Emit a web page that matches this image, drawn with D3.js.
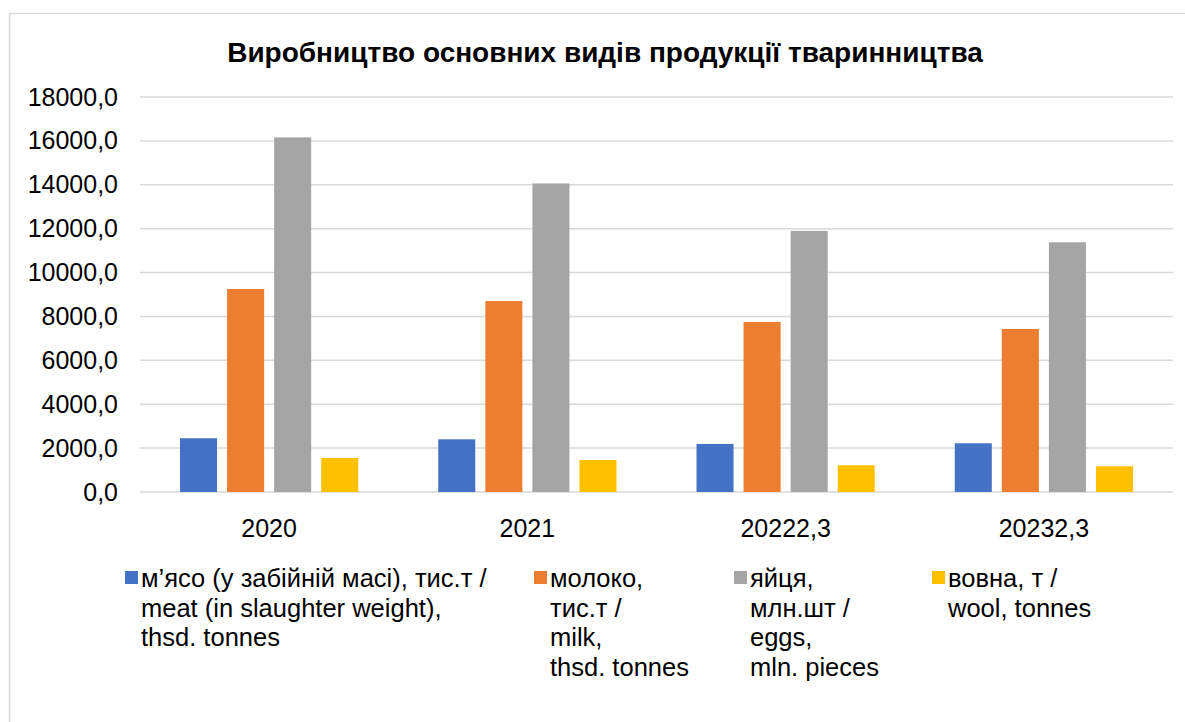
<!DOCTYPE html>
<html>
<head>
<meta charset="utf-8">
<script src="https://cdn.jsdelivr.net/npm/d3@7"></script>
<style>
  body { margin: 0; background: #fff; }
  svg { display: block; font-family: "Liberation Sans", Arial, sans-serif; }
</style>
</head>
<body>
<div id="chart"></div>
<script>
(function () {
    'use strict';

    var WIDTH = 1185;
    var HEIGHT = 722;

    var categories = ["2020", "2021", "20222,3", "20232,3"];
    var meat = [2450, 2400, 2190, 2220];
    var milk = [9250, 8700, 7750, 7430];
    var eggs = [16160, 14060, 11900, 11380];
    var wool = [1550, 1460, 1220, 1170];
    var yTicks = [0, 2000, 4000, 6000, 8000, 10000, 12000, 14000, 16000, 18000];

    var seriesNames = ["meat", "milk", "eggs", "wool"];
    var seriesValues = [meat, milk, eggs, wool];
    var colors = ["#4472c4", "#ed7d31", "#a5a5a5", "#ffc000"];
    var legendLines = [
        ["м’ясо (у забійній масі), тис.т /", "meat (in slaughter weight),", "thsd. tonnes"],
        ["молоко,", "тис.т /", "milk,", "thsd. tonnes"],
        ["яйця,", "млн.шт /", "eggs,", "mln. pieces"],
        ["вовна, т /", "wool, tonnes"]
    ];
    var legendX = [125, 534, 734, 932];

    var margin = {top: 97, left: 140, right: 12, bottom: 230};

    var svg = d3.select("#chart")
        .append("svg")
        .attr("width", WIDTH)
        .attr("height", HEIGHT);

    // outer chart frame
    svg.append("rect")
        .attr("x", 9.5)
        .attr("y", 13.5)
        .attr("width", WIDTH + 20)
        .attr("height", HEIGHT + 20)
        .attr("fill", "#fff")
        .attr("stroke", "#d9d9d9")
        .attr("stroke-width", 1.5);

    svg.append("text")
        .attr("x", 605)
        .attr("y", 62)
        .attr("text-anchor", "middle")
        .attr("font-size", 28)
        .attr("font-weight", "bold")
        .attr("fill", "#000")
        .text("Виробництво основних видів продукції тваринництва");

    var x0 = d3.scaleBand()
        .domain(categories)
        .range([margin.left, WIDTH - margin.right])
        .paddingInner(0)
        .paddingOuter(0);

    var x1 = d3.scaleBand()
        .domain(seriesNames)
        .range([0, x0.bandwidth()])
        .paddingInner(0.213)
        .paddingOuter(0.85);

    var y = d3.scaleLinear()
        .domain([0, 18000])
        .range([492, margin.top]);

    // gridlines
    svg.append("g")
        .selectAll("line")
        .data(yTicks)
        .enter()
        .append("line")
        .attr("x1", margin.left)
        .attr("x2", WIDTH - margin.right)
        .attr("y1", function (d) { return y(d); })
        .attr("y2", function (d) { return y(d); })
        .attr("stroke", "#d9d9d9")
        .attr("stroke-width", 1.5);

    // y axis labels
    var yAxis = d3.axisLeft(y)
        .tickValues(yTicks)
        .tickSize(0)
        .tickPadding(0)
        .tickFormat(function (d) { return d3.format(".1f")(d).replace(".", ","); });

    var gy = svg.append("g")
        .attr("transform", "translate(118,0)")
        .call(yAxis);
    gy.select(".domain").remove();
    gy.selectAll("text")
        .attr("font-family", "Liberation Sans, Arial, sans-serif")
        .attr("font-size", 25)
        .attr("fill", "#000");

    // bars
    var groups = svg.append("g")
        .selectAll("g")
        .data(categories)
        .enter()
        .append("g")
        .attr("transform", function (d) { return "translate(" + x0(d) + ",0)"; });

    groups.selectAll("rect")
        .data(function (d, i) {
            return seriesNames.map(function (s, j) {
                return {key: s, value: seriesValues[j][i], color: colors[j]};
            });
        })
        .enter()
        .append("rect")
        .attr("x", function (d) { return x1(d.key); })
        .attr("width", x1.bandwidth())
        .attr("y", function (d) { return y(d.value); })
        .attr("height", function (d) { return y(0) - y(d.value); })
        .attr("fill", function (d) { return d.color; });

    // x axis labels
    var xAxis = d3.axisBottom(x0).tickSize(0).tickPadding(0);
    var gx = svg.append("g")
        .attr("transform", "translate(0,519)")
        .call(xAxis);
    gx.select(".domain").remove();
    gx.selectAll("text")
        .attr("font-family", "Liberation Sans, Arial, sans-serif")
        .attr("font-size", 25)
        .attr("fill", "#000");

    // legend
    var legend = svg.append("g")
        .selectAll("g")
        .data(seriesNames)
        .enter()
        .append("g")
        .attr("transform", function (d, i) { return "translate(" + legendX[i] + ",571)"; });

    legend.append("rect")
        .attr("width", 13)
        .attr("height", 13)
        .attr("fill", function (d, i) { return colors[i]; });

    legend.append("text")
        .attr("x", 16)
        .attr("y", 16)
        .attr("font-size", 25.5)
        .attr("fill", "#000")
        .selectAll("tspan")
        .data(function (d, i) { return legendLines[i]; })
        .enter()
        .append("tspan")
        .attr("x", 16)
        .attr("dy", function (d, i) { return i === 0 ? 0 : 29.5; })
        .text(function (d) { return d; });
})();
</script>
</body>
</html>
